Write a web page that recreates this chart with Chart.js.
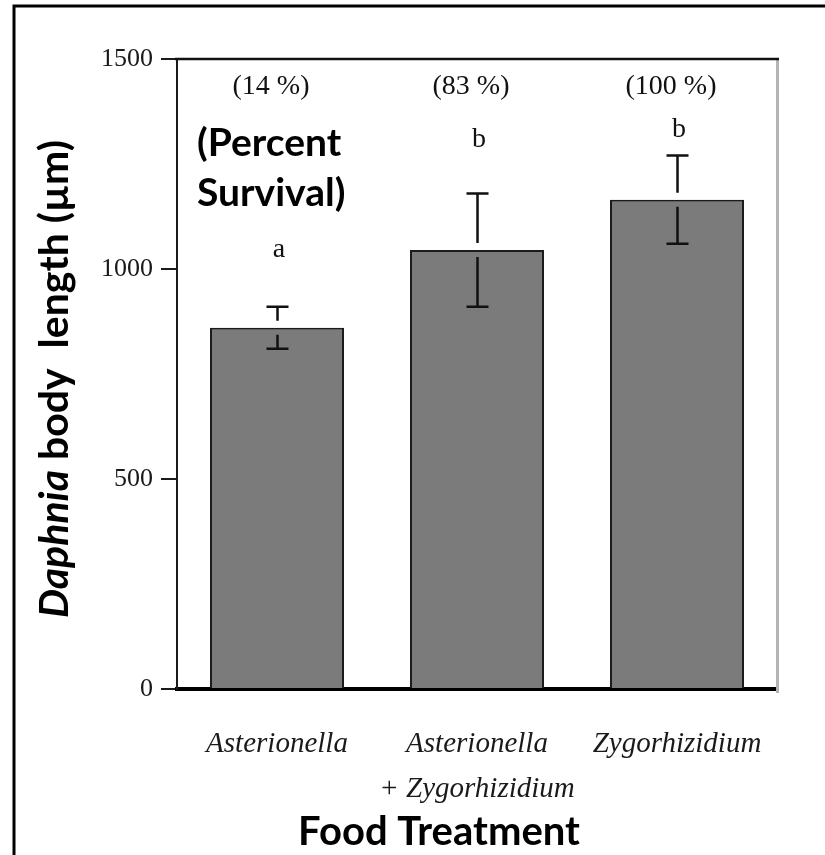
<!DOCTYPE html>
<html>
<head>
<meta charset="utf-8">
<script src="https://cdn.jsdelivr.net/npm/chart.js@4.4.1/dist/chart.umd.min.js"></script>
<style>
  html, body { margin: 0; padding: 0; background: #fff; }
  #wrap { width: 825px; height: 855px; position: relative; }
</style>
</head>
<body>
<div id="wrap"><canvas id="c" width="825" height="855"></canvas></div>
<script>
// Food treatments and Daphnia body length (mean ± SE, µm)
const treatments = [['Asterionella'], ['Asterionella', '+ Zygorhizidium'], ['Zygorhizidium']];
const meanLength = [860, 1045, 1165];
const stdError = [50, 135, 105];
const survival = ['(14 %)', '(83 %)', '(100 %)'];
const groupLetters = ['a', 'b', 'b'];
const yTicks = [0, 500, 1000, 1500];

// where the annotation rows sit, in axis units
const survivalRowAt = 1433;
const letterAt = [1045, 1307, 1331];

const SERIF = '"Liberation Serif", "Times New Roman", serif';
const SANS = 'Lato, "Open Sans", sans-serif';

const pagePlugin = {
  id: 'page',
  beforeDraw(chart) {
    const ctx = chart.ctx;
    ctx.save();
    ctx.fillStyle = '#fff';
    ctx.fillRect(0, 0, chart.width, chart.height);
    ctx.strokeStyle = '#000';
    ctx.lineWidth = 3;
    ctx.beginPath();
    ctx.moveTo(14, chart.height);
    ctx.lineTo(14, 6);
    ctx.lineTo(chart.width, 6);
    ctx.stroke();
    ctx.restore();
  },
  afterDraw(chart) {
    const ctx = chart.ctx;
    const a = chart.chartArea;
    ctx.save();
    // right edge of the plot frame
    ctx.strokeStyle = '#b4b4b4';
    ctx.lineWidth = 3;
    ctx.beginPath();
    ctx.moveTo(a.right + 0.5, a.top);
    ctx.lineTo(a.right + 0.5, a.bottom + 4);
    ctx.stroke();
    // top edge of the plot frame
    ctx.strokeStyle = '#111';
    ctx.lineWidth = 2.5;
    ctx.beginPath();
    ctx.moveTo(a.left - 2, a.top);
    ctx.lineTo(a.right + 2, a.top);
    ctx.stroke();

    // y-axis title, italic genus name followed by the rest
    const partA = 'Daphnia';
    const partB = ' body  length (µm)';
    const fA = 'italic bold 41px ' + SANS;
    const fB = 'bold 41px ' + SANS;
    ctx.font = fA; const wA = ctx.measureText(partA).width;
    ctx.font = fB; const wB = ctx.measureText(partB).width;
    ctx.translate(55, 379);
    ctx.rotate(-Math.PI / 2);
    ctx.fillStyle = '#000';
    ctx.textBaseline = 'middle';
    ctx.textAlign = 'left';
    const x0 = -(wA + wB) / 2;
    ctx.font = fA; ctx.fillText(partA, x0, 0);
    ctx.font = fB; ctx.fillText(partB, x0 + wA, 0);
    ctx.restore();

    // x-axis title
    ctx.save();
    ctx.font = 'bold 40px ' + SANS;
    ctx.fillStyle = '#000';
    ctx.textAlign = 'center';
    ctx.textBaseline = 'middle';
    ctx.fillText('Food Treatment', 439, 832);

    // note explaining the percentages
    ctx.font = 'bold 39px ' + SANS;
    ctx.textAlign = 'left';
    ctx.fillText('(Percent', a.left + 20, 143);
    ctx.fillText('Survival)', a.left + 20, 193);
    ctx.restore();
  }
};

const errorPlugin = {
  id: 'errorBars',
  afterDatasetsDraw(chart) {
    const ctx = chart.ctx;
    const y = chart.scales.y;
    const meta = chart.getDatasetMeta(0);
    ctx.save();
    meta.data.forEach((bar, i) => {
      const cx = Math.round(bar.x) + 0.5;
      const top = y.getPixelForValue(meanLength[i]);
      const hi = y.getPixelForValue(meanLength[i] + stdError[i]);
      const lo = y.getPixelForValue(meanLength[i] - stdError[i]);
      const half = 11;
      ctx.strokeStyle = '#111';
      ctx.lineWidth = 2.5;
      ctx.beginPath();
      // upper whisker
      ctx.moveTo(cx - half, hi); ctx.lineTo(cx + half, hi);
      ctx.moveTo(cx, hi); ctx.lineTo(cx, top - 7);
      // lower whisker, inside the bar
      ctx.moveTo(cx, top + 7); ctx.lineTo(cx, lo);
      ctx.moveTo(cx - half, lo); ctx.lineTo(cx + half, lo);
      ctx.stroke();

      ctx.fillStyle = '#111';
      ctx.textAlign = 'center';
      ctx.textBaseline = 'middle';
      ctx.font = '28px ' + SERIF;
      ctx.fillText(survival[i], bar.x - 6, y.getPixelForValue(survivalRowAt));
      ctx.fillText(groupLetters[i], bar.x + 2, y.getPixelForValue(letterAt[i]));
    });
    ctx.restore();
  }
};

new Chart(document.getElementById('c'), {
  type: 'bar',
  data: {
    labels: treatments,
    datasets: [{
      data: meanLength,
      backgroundColor: '#7b7b7b',
      borderColor: '#1c1c1c',
      borderWidth: 2,
      barPercentage: 0.67,
      categoryPercentage: 1
    }]
  },
  options: {
    responsive: false,
    animation: false,
    devicePixelRatio: 1,
    layout: { padding: { top: 59, right: 48, left: 0, bottom: 0 } },
    plugins: { legend: { display: false }, tooltip: { enabled: false } },
    scales: {
      x: {
        grid: { display: false, drawTicks: false },
        border: { display: true, color: '#000', width: 4 },
        ticks: {
          color: '#1a1a1a',
          padding: 33,
          autoSkip: false,
          maxRotation: 0,
          minRotation: 0,
          font: { family: SERIF, style: 'italic', size: 29, lineHeight: 1.55 }
        },
        afterFit: s => { s.height = 166; }
      },
      y: {
        min: 0,
        max: 1500,
        afterBuildTicks: s => { s.ticks = yTicks.map(v => ({ value: v })); },
        grid: { drawOnChartArea: false, drawTicks: true, tickLength: 16, color: '#1a1a1a', lineWidth: 2 },
        border: { display: true, color: '#1a1a1a', width: 2 },
        ticks: {
          color: '#1a1a1a',
          padding: 8,
          font: { family: SERIF, size: 26 },
          callback: v => String(v)
        },
        afterFit: s => { s.width = 177; }
      }
    }
  },
  plugins: [pagePlugin, errorPlugin]
});
</script>
</body>
</html>
